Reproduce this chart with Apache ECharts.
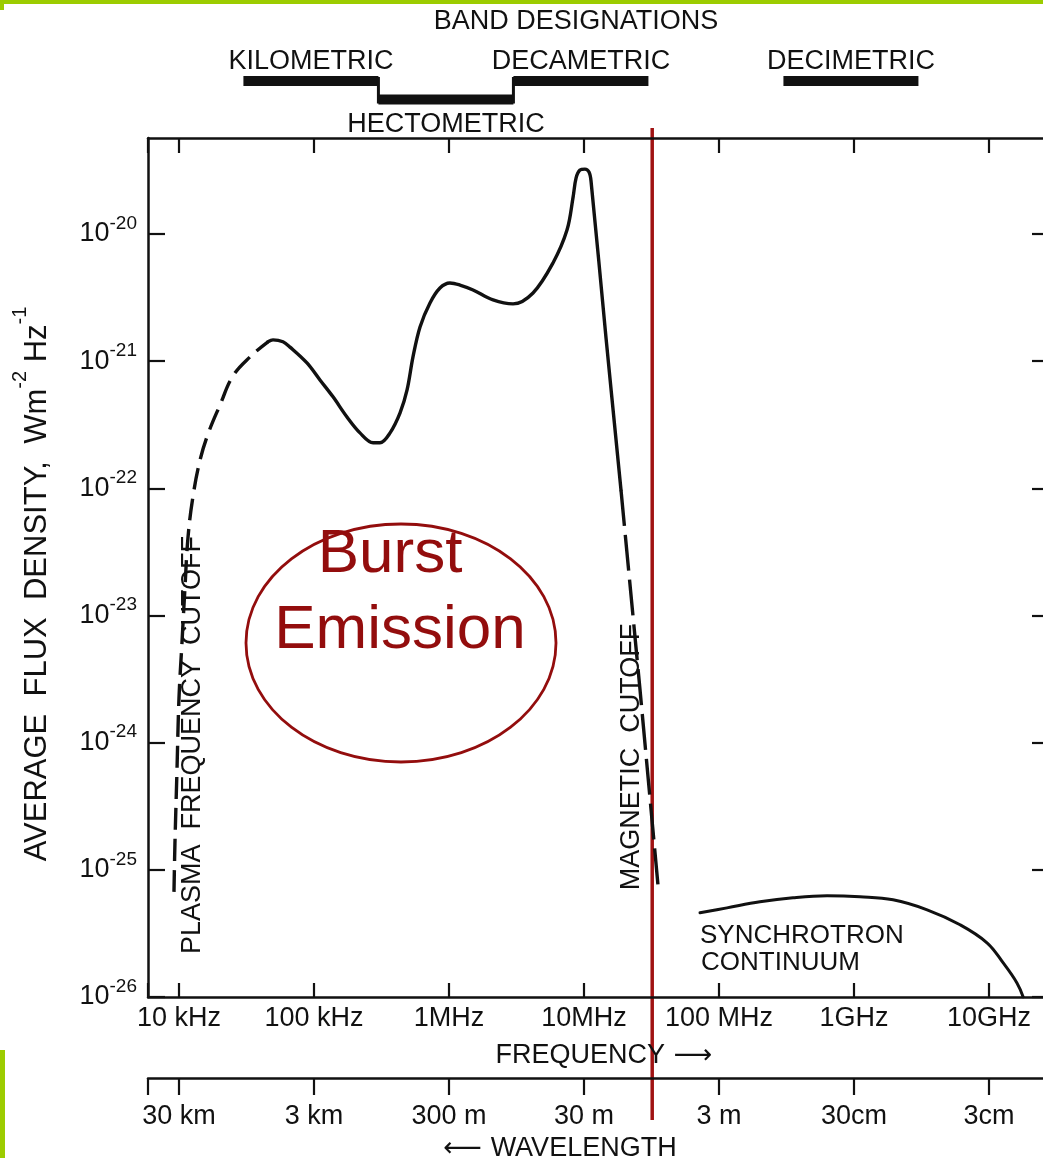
<!DOCTYPE html>
<html>
<head>
<meta charset="utf-8">
<script src="https://cdn.jsdelivr.net/npm/echarts@6/dist/echarts.min.js"></script>
<style>
html,body{margin:0;padding:0;background:#ffffff;}
#c{width:1043px;height:1158px;}
</style>
</head>
<body>
<div id="c"></div>
<script>
// ---------- tick labels ----------
const freqTickExps   = [4, 5, 6, 7, 8, 9, 10];
const freqTickLabels = ['10 kHz', '100 kHz', '1MHz', '10MHz', '100 MHz', '1GHz', '10GHz'];
const waveTickLabels = ['30 km', '3 km', '300 m', '30 m', '3 m', '30cm', '3cm'];
const fluxTickExps   = [-26, -25, -24, -23, -22, -21, -20];

// ---------- series data (Hz, W m^-2 Hz^-1) ----------
const plasmaFreq = [9.18e3, 9.33e3, 9.66e3, 1.0e4, 1.052e4, 1.107e4, 1.167e4, 1.271e4, 1.432e4, 1.641e4, 2.014e4, 2.512e4, 3.357e4, 4.56e4];
const plasmaFlux = [6.71e-26, 1.60e-25, 6.00e-25, 2.25e-24, 6.10e-24, 1.65e-23, 4.15e-23, 8.71e-23, 1.67e-22, 2.68e-22, 4.53e-22, 7.66e-22, 1.08e-21, 1.42e-21];

const burstFreq = [4.56e4, 4.97e4, 5.89e4, 6.64e4, 8.87e4, 1.107e5, 1.383e5, 1.755e5, 2.19e5, 2.74e5, 3.08e5, 3.66e5, 4.34e5, 4.89e5, 5.41e5, 6.10e5, 7.23e5, 8.57e5, 1.016e6, 1.205e6, 1.507e6, 2.12e6, 2.98e6, 4.19e6, 5.89e6, 7.48e6, 8.30e6, 8.73e6, 9.33e6, 1.016e7, 1.089e7, 1.127e7, 1.456e7, 1.879e7];
const burstFlux = [1.42e-21, 1.47e-21, 1.42e-21, 1.29e-21, 9.68e-22, 7.11e-22, 5.24e-22, 3.64e-22, 2.73e-22, 2.28e-22, 2.28e-22, 2.73e-22, 3.92e-22, 5.94e-22, 1.08e-21, 1.86e-21, 2.87e-21, 3.76e-21, 4.12e-21, 3.97e-21, 3.63e-21, 3.03e-21, 2.82e-21, 3.44e-21, 5.92e-21, 1.074e-20, 1.95e-20, 2.75e-20, 3.18e-20, 3.24e-20, 3.07e-20, 2.61e-20, 1.52e-21, 9.70e-23];

const magFreq = [1.879e7, 2.60e7, 3.53e7];
const magFlux = [9.70e-23, 2.60e-24, 7.62e-26];

const synchFreq = [7.23e7, 1.146e8, 2.01e8, 3.53e8, 6.31e8, 1.107e9, 1.945e9, 3.48e9, 6.10e9, 9.66e9, 1.27e10, 1.61e10, 1.79e10];
const synchFlux = [4.59e-26, 5.02e-26, 5.60e-26, 6.03e-26, 6.25e-26, 6.14e-26, 5.81e-26, 4.85e-26, 3.70e-26, 2.67e-26, 1.86e-26, 1.29e-26, 1.0e-26];

// ---------- band designations ----------
const bandNames = ['KILOMETRIC', 'HECTOMETRIC', 'DECAMETRIC', 'DECIMETRIC'];
const bandLow   = [3e4, 3e5, 3e6, 3e8];
const bandHigh  = [3e5, 3e6, 3e7, 3e9];
const bandLevel = [1, 0, 1, 1];

const redLineFreq = 3.2e7;

// axis extents
const freqMin = Math.pow(10, 3.7704);
const freqMax = Math.pow(10, 10.422);
const fluxMin = 1e-26;
const fluxMax = Math.pow(10, -19.245);

const FONT = "'Liberation Sans', Arial, Helvetica, sans-serif";
const ARROWFONT = "'DejaVu Sans', sans-serif";
const INK = '#111111';
const RED = '#930d0d';
const GREEN = '#9ccc00';

function zip(a, b) { return a.map((v, i) => [v, b[i]]); }
function expOf(v) {
  const e = Math.log10(v), r = Math.round(e);
  return Math.abs(e - r) < 1e-4 ? r : null;
}
function powLabel(e) { return '{b|10}{s|' + e + '}'; }
const powRich = {
  b: {fontSize: 27, lineHeight: 40, fontFamily: FONT, color: INK, fill: INK},
  s: {fontSize: 19, lineHeight: 18, verticalAlign: 'top', fontFamily: FONT, color: INK, fill: INK}
};
const fluxTickValues = fluxTickExps.map(e => Math.pow(10, e));

const chart = echarts.init(document.getElementById('c'), null, {renderer: 'canvas'});

const G = {left: 148, width: 898, outerBoundsMode: 'none', containLabel: false};

const option = {
  backgroundColor: '#ffffff',
  animation: false,
  grid: [
    Object.assign({top: 138, height: 859}, G),
    Object.assign({top: 1077, height: 1}, G),
    Object.assign({top: 81, height: 18.5}, G)
  ],
  xAxis: [
    {
      type: 'log', logBase: 10, gridIndex: 0, position: 'bottom', min: freqMin, max: freqMax,
      axisLine: {onZero: false, lineStyle: {color: INK, width: 2.5}},
      axisTick: {inside: true, length: 14, lineStyle: {color: INK, width: 2.2}},
      minorTick: {show: false}, splitLine: {show: false},
      axisLabel: {
        margin: 8, color: INK, fontSize: 27, fontFamily: FONT,
        formatter: v => { const e = expOf(v); const i = freqTickExps.indexOf(e); return i < 0 ? '' : freqTickLabels[i]; }
      },
      name: '{t|FREQUENCY}{a| \u27F6}', nameLocation: 'middle', nameGap: 45,
      nameTextStyle: {
        padding: [0, 0, 0, 14],
        rich: {
          t: {color: INK, fontSize: 27, fontFamily: FONT},
          a: {color: INK, fontSize: 27, fontFamily: ARROWFONT}
        }
      }
    },
    {
      type: 'log', logBase: 10, gridIndex: 0, position: 'top', min: freqMin, max: freqMax,
      axisLine: {onZero: false, lineStyle: {color: INK, width: 2.5}},
      axisTick: {inside: true, length: 15, lineStyle: {color: INK, width: 2.2}},
      axisLabel: {show: false}, splitLine: {show: false}
    },
    {
      type: 'log', logBase: 10, gridIndex: 1, position: 'bottom', min: freqMin, max: freqMax,
      axisLine: {onZero: false, lineStyle: {color: INK, width: 2.5}},
      axisTick: {inside: false, length: 17, lineStyle: {color: INK, width: 2.2}},
      splitLine: {show: false},
      axisLabel: {
        margin: 25, color: INK, fontSize: 27, fontFamily: FONT,
        formatter: v => { const e = expOf(v); const i = freqTickExps.indexOf(e); return i < 0 ? '' : waveTickLabels[i]; }
      },
      name: '{a|\u27F5 }{t|WAVELENGTH}', nameLocation: 'middle', nameGap: 57,
      nameTextStyle: {
        padding: [0, 74, 0, 0],
        rich: {
          t: {color: INK, fontSize: 27, fontFamily: FONT},
          a: {color: INK, fontSize: 27, fontFamily: ARROWFONT}
        }
      }
    },
    {type: 'log', logBase: 10, gridIndex: 2, min: freqMin, max: freqMax, show: false}
  ],
  yAxis: [
    {
      type: 'log', logBase: 10, gridIndex: 0, position: 'left', min: fluxMin, max: fluxMax,
      axisLine: {onZero: false, lineStyle: {color: INK, width: 2.5}},
      axisTick: {inside: true, length: 17, lineStyle: {color: INK, width: 2.2}, customValues: fluxTickValues},
      minorTick: {show: false}, splitLine: {show: false},
      axisLabel: {
        margin: 11, color: INK, fontFamily: FONT,
        // the bottom (-26) label sits on the corner and is drawn separately below
        formatter: v => { const e = expOf(v); return (e === null || e === fluxTickExps[0] || fluxTickExps.indexOf(e) < 0) ? '' : powLabel(e); },
        rich: powRich
      }
    },
    {
      type: 'log', logBase: 10, gridIndex: 0, position: 'right', min: fluxMin, max: fluxMax,
      axisLine: {onZero: false, lineStyle: {color: INK, width: 2.5}},
      axisTick: {inside: true, length: 14, lineStyle: {color: INK, width: 2.2}, customValues: fluxTickValues},
      axisLabel: {show: false}, splitLine: {show: false}
    },
    {type: 'value', gridIndex: 1, show: false, min: 0, max: 1},
    {type: 'value', gridIndex: 2, show: false, min: 0, max: 1}
  ],
  series: [
    {
      name: 'Plasma frequency cutoff', type: 'line', xAxisIndex: 0, yAxisIndex: 0,
      data: zip(plasmaFreq, plasmaFlux), smooth: 0.4, symbol: 'none', silent: true,
      lineStyle: {color: INK, width: 3.4, type: [22, 9], cap: 'butt'}
    },
    {
      name: 'Burst emission', type: 'line', xAxisIndex: 0, yAxisIndex: 0,
      data: zip(burstFreq, burstFlux), smooth: 0.35, symbol: 'none', silent: true,
      lineStyle: {color: INK, width: 3.4, cap: 'round', join: 'round'}
    },
    {
      name: 'Magnetic cutoff', type: 'line', xAxisIndex: 0, yAxisIndex: 0,
      data: zip(magFreq, magFlux), smooth: false, symbol: 'none', silent: true,
      lineStyle: {color: INK, width: 3.4, type: [36, 9], cap: 'butt'}
    },
    {
      name: 'Synchrotron continuum', type: 'line', xAxisIndex: 0, yAxisIndex: 0,
      data: zip(synchFreq, synchFlux), smooth: 0.4, symbol: 'none', silent: true,
      lineStyle: {color: INK, width: 3, cap: 'round'}
    },
    {
      name: 'Band designations', type: 'custom', xAxisIndex: 3, yAxisIndex: 3, clip: false, silent: true,
      data: bandLow.map((lo, i) => [lo, bandHigh[i], bandLevel[i]]),
      encode: {x: [0, 1], y: 2},
      renderItem: function (params, api) {
        const lo = api.value(0), hi = api.value(1), lvl = api.value(2);
        const p0 = api.coord([lo, lvl]), p1 = api.coord([hi, lvl]);
        const yTop = api.coord([lo, 1])[1], yBot = api.coord([lo, 0])[1];
        const children = [{
          type: 'rect',
          shape: {x: p0[0], y: p0[1] - 5, width: p1[0] - p0[0], height: 10},
          style: {fill: INK}
        }];
        if (lvl === 0) {
          [p0[0], p1[0]].forEach(x => children.push({
            type: 'line', shape: {x1: x, y1: yTop - 4, x2: x, y2: yBot + 4},
            style: {stroke: INK, lineWidth: 3}
          }));
        }
        children.push({
          type: 'text',
          x: (p0[0] + p1[0]) / 2,
          y: lvl ? p0[1] - 19 : p0[1] + 25,
          style: {
            text: bandNames[params.dataIndex], fill: INK,
            font: '27px ' + FONT, textAlign: 'center', textVerticalAlign: 'middle',
            align: 'center', verticalAlign: 'middle'
          }
        });
        return {type: 'group', children: children};
      }
    }
  ]
};

chart.setOption(option);

// If this ECharts build cannot place custom tick values on a log axis, fall back to automatic ticks.
(function checkTicks() {
  let ok = false;
  try {
    const ax = chart.getModel().getComponent('yAxis', 0).axis;
    const coords = ax.getTicksCoords();
    ok = coords.length >= fluxTickExps.length && coords.every(c => isFinite(c.coord));
  } catch (e) { ok = false; }
  if (!ok) {
    chart.setOption({yAxis: [
      {axisTick: {customValues: null}},
      {axisTick: {customValues: null}}
    ]});
  }
})();

const redX = chart.convertToPixel({xAxisIndex: 0}, redLineFreq);
const yMinPx = chart.convertToPixel({yAxisIndex: 0}, fluxMin);
const leftPx = chart.convertToPixel({xAxisIndex: 0}, freqMin);

function txt(id, text, x, y, size, opts) {
  return Object.assign({
    type: 'text', id: id, x: x, y: y, silent: true,
    style: {text: text, fill: INK, font: size + 'px ' + FONT, textAlign: 'center', textVerticalAlign: 'middle', align: 'center', verticalAlign: 'middle'}
  }, opts || {});
}

chart.setOption({
  graphic: [
    {type: 'rect', id: 'g1', shape: {x: 0, y: 0, width: 1043, height: 4}, style: {fill: GREEN}, silent: true},
    {type: 'rect', id: 'g2', shape: {x: 0, y: 0, width: 4, height: 10}, style: {fill: GREEN}, silent: true},
    {type: 'rect', id: 'g3', shape: {x: 0, y: 1050, width: 5, height: 108}, style: {fill: GREEN}, silent: true},
    txt('bandTitle', 'BAND DESIGNATIONS', 576, 22, 27),
    {
      type: 'text', id: 'ytitle', x: 37, y: 584, rotation: Math.PI / 2, silent: true,
      style: {
        text: '{n|AVERAGE  FLUX  DENSITY,  Wm}{s|-2}{n| Hz}{s|-1}',
        align: 'center', verticalAlign: 'middle', textAlign: 'center', textVerticalAlign: 'middle',
        rich: {
          n: {fontSize: 31, lineHeight: 54, fontFamily: FONT, fill: INK, color: INK},
          s: {fontSize: 20, lineHeight: 20, verticalAlign: 'top', fontFamily: FONT, fill: INK, color: INK}
        }
      }
    },
    {
      type: 'text', id: 'ymin', x: leftPx - 11, y: yMinPx, silent: true,
      style: {text: powLabel(fluxTickExps[0]), rich: powRich, align: 'right', verticalAlign: 'middle', textAlign: 'right', textVerticalAlign: 'middle'}
    },
    txt('plasma', 'PLASMA  FREQUENCY  CUTOFF', 193, 745, 27, {rotation: Math.PI / 2}),
    txt('magnetic', 'MAGNETIC  CUTOFF', 632, 757, 27, {rotation: Math.PI / 2}),
    {type: 'text', id: 'syn1', x: 700, y: 936, silent: true,
      style: {text: 'SYNCHROTRON', fill: INK, font: '26px ' + FONT, textAlign: 'left', textVerticalAlign: 'middle', align: 'left', verticalAlign: 'middle'}},
    {type: 'text', id: 'syn2', x: 701, y: 963, silent: true,
      style: {text: 'CONTINUUM', fill: INK, font: '26px ' + FONT, textAlign: 'left', textVerticalAlign: 'middle', align: 'left', verticalAlign: 'middle'}},
    {type: 'ellipse', id: 'circle', shape: {cx: 401, cy: 643, rx: 155, ry: 119}, silent: true,
      style: {fill: 'none', stroke: RED, lineWidth: 2.8}},
    {type: 'text', id: 'burst1', x: 390, y: 555, silent: true,
      style: {text: 'Burst', fill: RED, font: '62px ' + FONT, textAlign: 'center', textVerticalAlign: 'middle', align: 'center', verticalAlign: 'middle'}},
    {type: 'text', id: 'burst2', x: 400, y: 631, silent: true,
      style: {text: 'Emission', fill: RED, font: '62px ' + FONT, textAlign: 'center', textVerticalAlign: 'middle', align: 'center', verticalAlign: 'middle'}},
    {type: 'line', id: 'redline', shape: {x1: redX, y1: 128, x2: redX, y2: 1120}, silent: true,
      style: {stroke: '#a01212', lineWidth: 3.5}}
  ]
});
</script>
</body>
</html>
